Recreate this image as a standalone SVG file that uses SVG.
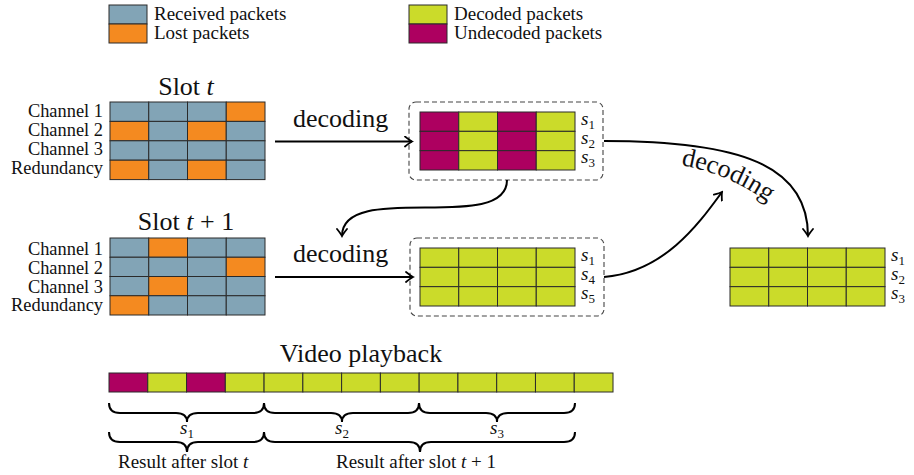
<svg xmlns="http://www.w3.org/2000/svg" width="914" height="475" viewBox="0 0 914 475">
<style>
text{font-family:"Liberation Serif","Times New Roman",serif;fill:#111}
.t19{font-size:19px}
.lab{font-size:18.4px}
.t26{font-size:26px}
.it{font-style:italic}
.sub{font-size:13px;font-style:normal}
rect.c{stroke:#2a2a2a;stroke-width:1}
.b{fill:#82A4B6}.o{fill:#F48A20}.g{fill:#CBDB2A}.m{fill:#AD0060}
.dash{fill:none;stroke:#444;stroke-width:1.1;stroke-dasharray:5 3}
.arr{fill:none;stroke:#000;stroke-width:2}
.brace{fill:none;stroke:#000;stroke-width:2}
</style>
<defs>
<marker id="ah" viewBox="-8 -6 10 12" refX="0" refY="0" markerWidth="10" markerHeight="12" markerUnits="userSpaceOnUse" orient="auto">
<path d="M-7,-5 Q-2,-1 0,0 Q-2,1 -7,5" fill="none" stroke="#000" stroke-width="1.8" stroke-linecap="round"/>
</marker>
<path id="dpath" d="M681 165 Q730 174 772 205"/>
</defs>

<g id="legend">
<rect class="c b" x="109" y="5" width="38" height="19"/>
<rect class="c o" x="109" y="24" width="38" height="19"/>
<text class="t19" x="154" y="20">Received packets</text>
<text class="t19" x="154" y="39">Lost packets</text>
<rect class="c g" x="409" y="5" width="38" height="19"/>
<rect class="c m" x="409" y="24" width="38" height="19"/>
<text class="t19" x="454" y="20">Decoded packets</text>
<text class="t19" x="454" y="39">Undecoded packets</text>
</g>

<g id="slot-t">
<text class="t26" x="186" y="95" text-anchor="middle">Slot <tspan class="it">t</tspan></text>
<text class="lab" x="103" y="117" text-anchor="end">Channel 1</text>
<text class="lab" x="103" y="136" text-anchor="end">Channel 2</text>
<text class="lab" x="103" y="155" text-anchor="end">Channel 3</text>
<text class="lab" x="103" y="174" text-anchor="end">Redundancy</text>
<rect class="c b" x="110" y="102" width="38.75" height="19.4"/>
<rect class="c b" x="148.75" y="102" width="38.75" height="19.4"/>
<rect class="c b" x="187.5" y="102" width="38.75" height="19.4"/>
<rect class="c o" x="226.25" y="102" width="38.75" height="19.4"/>
<rect class="c o" x="110" y="121.4" width="38.75" height="19.4"/>
<rect class="c b" x="148.75" y="121.4" width="38.75" height="19.4"/>
<rect class="c o" x="187.5" y="121.4" width="38.75" height="19.4"/>
<rect class="c b" x="226.25" y="121.4" width="38.75" height="19.4"/>
<rect class="c b" x="110" y="140.8" width="38.75" height="19.4"/>
<rect class="c b" x="148.75" y="140.8" width="38.75" height="19.4"/>
<rect class="c b" x="187.5" y="140.8" width="38.75" height="19.4"/>
<rect class="c b" x="226.25" y="140.8" width="38.75" height="19.4"/>
<rect class="c o" x="110" y="160.2" width="38.75" height="19.4"/>
<rect class="c b" x="148.75" y="160.2" width="38.75" height="19.4"/>
<rect class="c o" x="187.5" y="160.2" width="38.75" height="19.4"/>
<rect class="c b" x="226.25" y="160.2" width="38.75" height="19.4"/>
</g>

<g id="slot-t1">
<text class="t26" x="186" y="230" text-anchor="middle">Slot <tspan class="it">t</tspan> + 1</text>
<text class="lab" x="103" y="255" text-anchor="end">Channel 1</text>
<text class="lab" x="103" y="273.8" text-anchor="end">Channel 2</text>
<text class="lab" x="103" y="292.6" text-anchor="end">Channel 3</text>
<text class="lab" x="103" y="311.4" text-anchor="end">Redundancy</text>
<rect class="c b" x="110" y="238" width="38.75" height="19.25"/>
<rect class="c o" x="148.75" y="238" width="38.75" height="19.25"/>
<rect class="c b" x="187.5" y="238" width="38.75" height="19.25"/>
<rect class="c b" x="226.25" y="238" width="38.75" height="19.25"/>
<rect class="c b" x="110" y="257.25" width="38.75" height="19.25"/>
<rect class="c b" x="148.75" y="257.25" width="38.75" height="19.25"/>
<rect class="c b" x="187.5" y="257.25" width="38.75" height="19.25"/>
<rect class="c o" x="226.25" y="257.25" width="38.75" height="19.25"/>
<rect class="c b" x="110" y="276.5" width="38.75" height="19.25"/>
<rect class="c o" x="148.75" y="276.5" width="38.75" height="19.25"/>
<rect class="c b" x="187.5" y="276.5" width="38.75" height="19.25"/>
<rect class="c b" x="226.25" y="276.5" width="38.75" height="19.25"/>
<rect class="c o" x="110" y="295.75" width="38.75" height="19.25"/>
<rect class="c b" x="148.75" y="295.75" width="38.75" height="19.25"/>
<rect class="c b" x="187.5" y="295.75" width="38.75" height="19.25"/>
<rect class="c b" x="226.25" y="295.75" width="38.75" height="19.25"/>
</g>

<g id="box-top">
<rect class="dash" x="409" y="102" width="194" height="78" rx="7"/>
<rect class="c m" x="420" y="112" width="38.75" height="19.33"/>
<rect class="c g" x="458.75" y="112" width="38.75" height="19.33"/>
<rect class="c m" x="497.5" y="112" width="38.75" height="19.33"/>
<rect class="c g" x="536.25" y="112" width="38.75" height="19.33"/>
<rect class="c m" x="420" y="131.33" width="38.75" height="19.33"/>
<rect class="c g" x="458.75" y="131.33" width="38.75" height="19.33"/>
<rect class="c m" x="497.5" y="131.33" width="38.75" height="19.33"/>
<rect class="c g" x="536.25" y="131.33" width="38.75" height="19.33"/>
<rect class="c m" x="420" y="150.67" width="38.75" height="19.33"/>
<rect class="c g" x="458.75" y="150.67" width="38.75" height="19.33"/>
<rect class="c m" x="497.5" y="150.67" width="38.75" height="19.33"/>
<rect class="c g" x="536.25" y="150.67" width="38.75" height="19.33"/>
<text class="t19 it" x="581" y="125">s<tspan class="sub" dy="4">1</tspan></text>
<text class="t19 it" x="581" y="144">s<tspan class="sub" dy="4">2</tspan></text>
<text class="t19 it" x="581" y="163">s<tspan class="sub" dy="4">3</tspan></text>
</g>

<g id="box-bottom">
<rect class="dash" x="410" y="238" width="194" height="78" rx="7"/>
<rect class="c g" x="420" y="248" width="38.75" height="19.33"/>
<rect class="c g" x="458.75" y="248" width="38.75" height="19.33"/>
<rect class="c g" x="497.5" y="248" width="38.75" height="19.33"/>
<rect class="c g" x="536.25" y="248" width="38.75" height="19.33"/>
<rect class="c g" x="420" y="267.33" width="38.75" height="19.33"/>
<rect class="c g" x="458.75" y="267.33" width="38.75" height="19.33"/>
<rect class="c g" x="497.5" y="267.33" width="38.75" height="19.33"/>
<rect class="c g" x="536.25" y="267.33" width="38.75" height="19.33"/>
<rect class="c g" x="420" y="286.67" width="38.75" height="19.33"/>
<rect class="c g" x="458.75" y="286.67" width="38.75" height="19.33"/>
<rect class="c g" x="497.5" y="286.67" width="38.75" height="19.33"/>
<rect class="c g" x="536.25" y="286.67" width="38.75" height="19.33"/>
<text class="t19 it" x="581" y="261">s<tspan class="sub" dy="4">1</tspan></text>
<text class="t19 it" x="581" y="280">s<tspan class="sub" dy="4">4</tspan></text>
<text class="t19 it" x="581" y="299">s<tspan class="sub" dy="4">5</tspan></text>
</g>

<g id="result-grid">
<rect class="c g" x="730" y="248" width="38.75" height="19.33"/>
<rect class="c g" x="768.75" y="248" width="38.75" height="19.33"/>
<rect class="c g" x="807.5" y="248" width="38.75" height="19.33"/>
<rect class="c g" x="846.25" y="248" width="38.75" height="19.33"/>
<rect class="c g" x="730" y="267.33" width="38.75" height="19.33"/>
<rect class="c g" x="768.75" y="267.33" width="38.75" height="19.33"/>
<rect class="c g" x="807.5" y="267.33" width="38.75" height="19.33"/>
<rect class="c g" x="846.25" y="267.33" width="38.75" height="19.33"/>
<rect class="c g" x="730" y="286.67" width="38.75" height="19.33"/>
<rect class="c g" x="768.75" y="286.67" width="38.75" height="19.33"/>
<rect class="c g" x="807.5" y="286.67" width="38.75" height="19.33"/>
<rect class="c g" x="846.25" y="286.67" width="38.75" height="19.33"/>
<text class="t19 it" x="891" y="261">s<tspan class="sub" dy="4">1</tspan></text>
<text class="t19 it" x="891" y="280">s<tspan class="sub" dy="4">2</tspan></text>
<text class="t19 it" x="891" y="299">s<tspan class="sub" dy="4">3</tspan></text>
</g>

<g id="connectors">
<path class="arr" d="M275 141.5 L412 141.5" marker-end="url(#ah)"/>
<text class="t26" x="293" y="127">decoding</text>
<path class="arr" d="M275 277 L413 277" marker-end="url(#ah)"/>
<text class="t26" x="293" y="262">decoding</text>
<path class="arr" d="M507 180 C507 235 342 180 342 236" marker-end="url(#ah)"/>
<path class="arr" d="M604 141 C740 141 808 165 808 236" marker-end="url(#ah)"/>
<path class="arr" d="M604 277 C665 272 700 222 722 192" marker-end="url(#ah)"/>
<text class="t26"><textPath href="#dpath">decoding</textPath></text>
</g>

<g id="playback">
<text class="t26" x="361" y="362" text-anchor="middle">Video playback</text>
<rect class="c m" x="109" y="373" width="38.77" height="19"/>
<rect class="c g" x="147.77" y="373" width="38.77" height="19"/>
<rect class="c m" x="186.54" y="373" width="38.77" height="19"/>
<rect class="c g" x="225.31" y="373" width="38.77" height="19"/>
<rect class="c g" x="264.08" y="373" width="38.77" height="19"/>
<rect class="c g" x="302.85" y="373" width="38.77" height="19"/>
<rect class="c g" x="341.62" y="373" width="38.77" height="19"/>
<rect class="c g" x="380.39" y="373" width="38.77" height="19"/>
<rect class="c g" x="419.16" y="373" width="38.77" height="19"/>
<rect class="c g" x="457.93" y="373" width="38.77" height="19"/>
<rect class="c g" x="496.7" y="373" width="38.77" height="19"/>
<rect class="c g" x="535.47" y="373" width="38.77" height="19"/>
<rect class="c g" x="574.24" y="373" width="38.77" height="19"/>
</g>

<g id="braces">
<path class="brace" d="M109 403 Q109 413 120 413 L176 413 Q187 413 187 422 Q187 413 198 413 L253 413 Q264 413 264 403"/>
<path class="brace" d="M264 403 Q264 413 275 413 L331 413 Q342 413 342 422 Q342 413 353 413 L408 413 Q419 413 419 403"/>
<path class="brace" d="M419 403 Q419 413 430 413 L486 413 Q497 413 497 422 Q497 413 508 413 L564 413 Q575 413 575 403"/>
<text class="t19 it" x="187" y="434" text-anchor="middle">s<tspan class="sub" dy="4">1</tspan></text>
<text class="t19 it" x="342" y="434" text-anchor="middle">s<tspan class="sub" dy="4">2</tspan></text>
<text class="t19 it" x="497" y="434" text-anchor="middle">s<tspan class="sub" dy="4">3</tspan></text>
<path class="brace" d="M109 432 Q109 442 120 442 L176 442 Q187 442 187 452 Q187 442 198 442 L253 442 Q264 442 264 432"/>
<path class="brace" d="M264 432 Q264 442 275 442 L409 442 Q420 442 420 452 Q420 442 431 442 L564 442 Q575 442 575 432"/>
<text class="t19" x="118" y="468">Result after slot <tspan class="it">t</tspan></text>
<text class="t19" x="336" y="468">Result after slot <tspan class="it">t</tspan> + 1</text>
</g>
</svg>
